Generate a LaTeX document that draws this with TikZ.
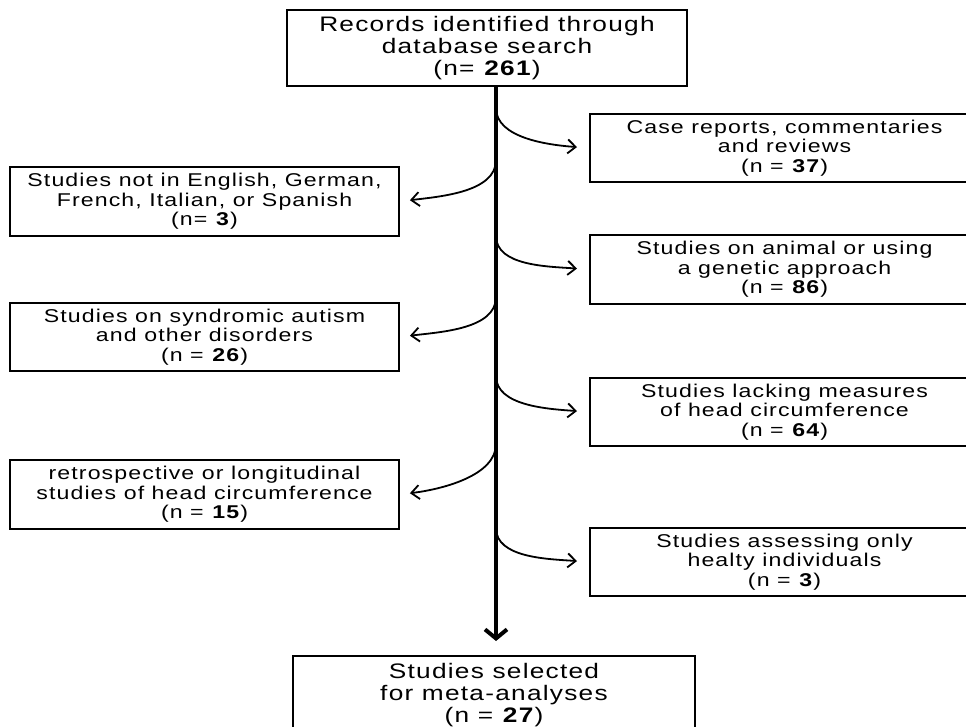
\documentclass[tikz,border=0pt]{standalone}
\usepackage{fontspec}
\setmainfont{Liberation Sans}[FakeStretch=1.25,LetterSpace=6]
\usetikzlibrary{arrows.meta}
\begin{document}
\begin{tikzpicture}[x=1pt,y=-1pt,inner sep=0pt,outer sep=0pt,line width=2pt,
	recbox/.style={draw,rectangle,align=center,minimum width=389pt,minimum height=68pt,font=\fontsize{18.5}{19.3}\selectfont},
	bigbox/.style={recbox,minimum width=400pt,font=\fontsize{21}{22.3}\selectfont},
	spine/.style={line width=4pt,-{Straight Barb[length=9pt,width=22pt]}},
	branch/.style={line width=1.8pt,-{Straight Barb[length=8pt,width=14pt]}}]
	\path[use as bounding box,clip] (0,0) rectangle (966,727);
	\draw (487,48) node[bigbox,minimum height=76pt] (search) {Records identified through\\database search\\(n= \textbf{261})};
	\draw (204.5,201.5) node[recbox,minimum height=69pt] (language) {Studies not in English, German,\\French, Italian, or Spanish\\(n= \textbf{3})};
	\draw (204.5,337) node[recbox] (syndromic) {Studies on syndromic autism\\and other disorders\\(n = \textbf{26})};
	\draw (204.5,494.5) node[recbox,minimum height=69pt] (retro) {retrospective or longitudinal\\studies of head circumference\\(n = \textbf{15})};
	\draw (784.5,148) node[recbox] (reports) {Case reports, commentaries\\and reviews\\(n = \textbf{37})};
	\draw (784.5,269.5) node[recbox,minimum height=69pt] (animal) {Studies on animal or using\\a genetic approach\\(n = \textbf{86})};
	\draw (784.5,412) node[recbox] (lacking) {Studies lacking measures\\of head circumference\\(n = \textbf{64})};
	\draw (784.5,562) node[recbox] (healthy) {Studies assessing only\\healty individuals\\(n = \textbf{3})};
	\draw (494,695) node[bigbox,minimum width=402pt,minimum height=78pt] (selected) {Studies selected\\for meta-analyses\\(n = \textbf{27})};
	\coordinate (sTop) at (496,86);
	\coordinate (jA) at (496,108);
	\coordinate (jL1) at (496,160);
	\coordinate (jB) at (496,236);
	\coordinate (jL2) at (496,297);
	\coordinate (jC) at (496,376);
	\coordinate (jL3) at (496,444);
	\coordinate (jD) at (496,528);
	\draw[spine,shorten >=15pt] (sTop) -- (sTop |- selected.north);
	\draw[branch,shorten >=13pt] (jA) .. controls +(0,30) and +(-42,-3) .. (reports.west);
	\draw[branch,shorten >=13pt] (jB) .. controls +(0,30) and +(-42,-3) .. (animal.west);
	\draw[branch,shorten >=13pt] (jC) .. controls +(0,30) and +(-42,-3) .. (lacking.west);
	\draw[branch,shorten >=13pt] (jD) .. controls +(0,30) and +(-42,-3) .. (healthy.west);
	\draw[branch,shorten >=11pt] (jL1) .. controls +(0,32) and +(42,-5) .. (language.east);
	\draw[branch,shorten >=11pt] (jL2) .. controls +(0,32) and +(42,-5) .. (syndromic.east);
	\draw[branch,shorten >=11pt] (jL3) .. controls +(0,32) and +(42,-5) .. (retro.east);
\end{tikzpicture}
\end{document}
